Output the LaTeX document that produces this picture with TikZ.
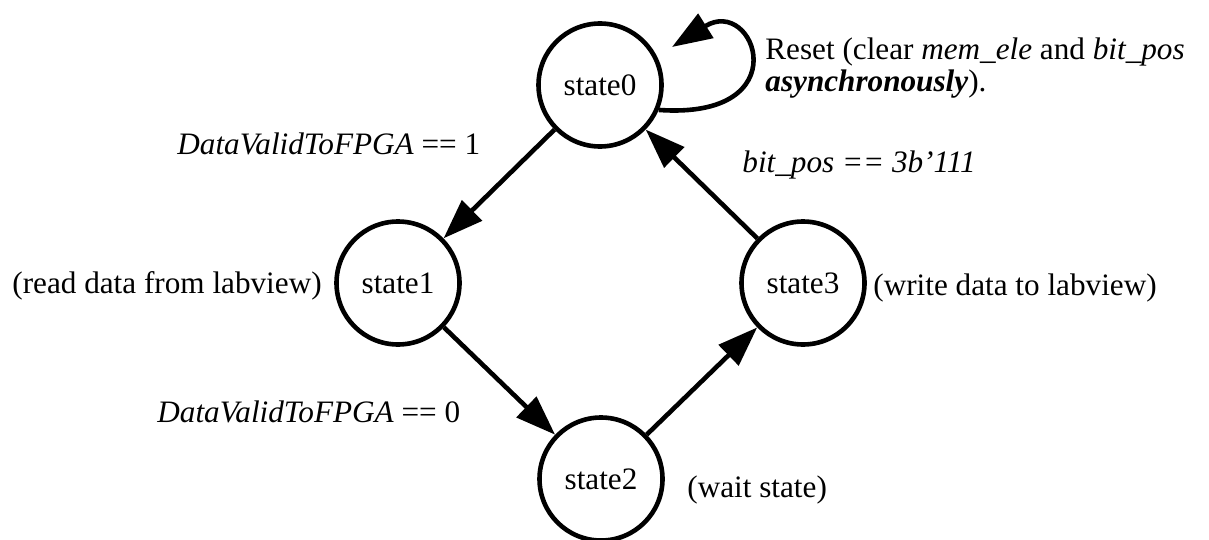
\documentclass[tikz,border=0pt]{standalone}
\usepackage{fontspec}
\setmainfont{Liberation Serif}
\usetikzlibrary{arrows.meta}
\tikzset{state/.style={circle,draw,line width=2.3pt,minimum size=61.5pt,inner sep=0pt},
  trans/.style={line width=2.3pt,-{Triangle[length=20pt,width=14pt]}},
  note/.style={inner sep=0pt,anchor=base west}}
\begin{document}
\begin{tikzpicture}[x=0.5pt,y=-0.5pt,font=\fontsize{15.6}{15.8}\selectfont]
\useasboundingbox (0,0) rectangle (1209,540);
% states
\node[state] (s0) at (600,85) {state0};
\node[state] (s1) at (398,283) {state1};
\node[state] (s2) at (601,479) {state2};
\node[state] (s3) at (803,283) {state3};
\coordinate (loopend) at (672,47);
% transitions
\draw[trans] (s0) -- (s1);
\draw[trans] (s1) -- (s2);
\draw[trans] (s2) -- (s3);
\draw[trans] (s3) -- (s0);
\draw[trans] (s0.-23) .. controls (800,120) and (755,-5) .. (loopend);
% conditions and notes
\node[note] (c01) at (177,155) {\textit{DataValidToFPGA} == 1};
\node[note] (c12) at (157,422) {\textit{DataValidToFPGA} == 0};
\node[note] (c30) at (742,172) {\textit{bit\_pos == 3b’111}};
\node[note] (d1) at (12,293) {(read data from labview)};
\node[note] (d3) at (873,295) {(write data to labview)};
\node[note] (d2) at (687,497) {(wait state)};
\node[note,align=left] (d0) at (765,91) {Reset (clear \textit{mem\_ele} and \textit{bit\_pos}\\
  \textbf{\textit{asynchronously}}).};
\end{tikzpicture}
\end{document}
